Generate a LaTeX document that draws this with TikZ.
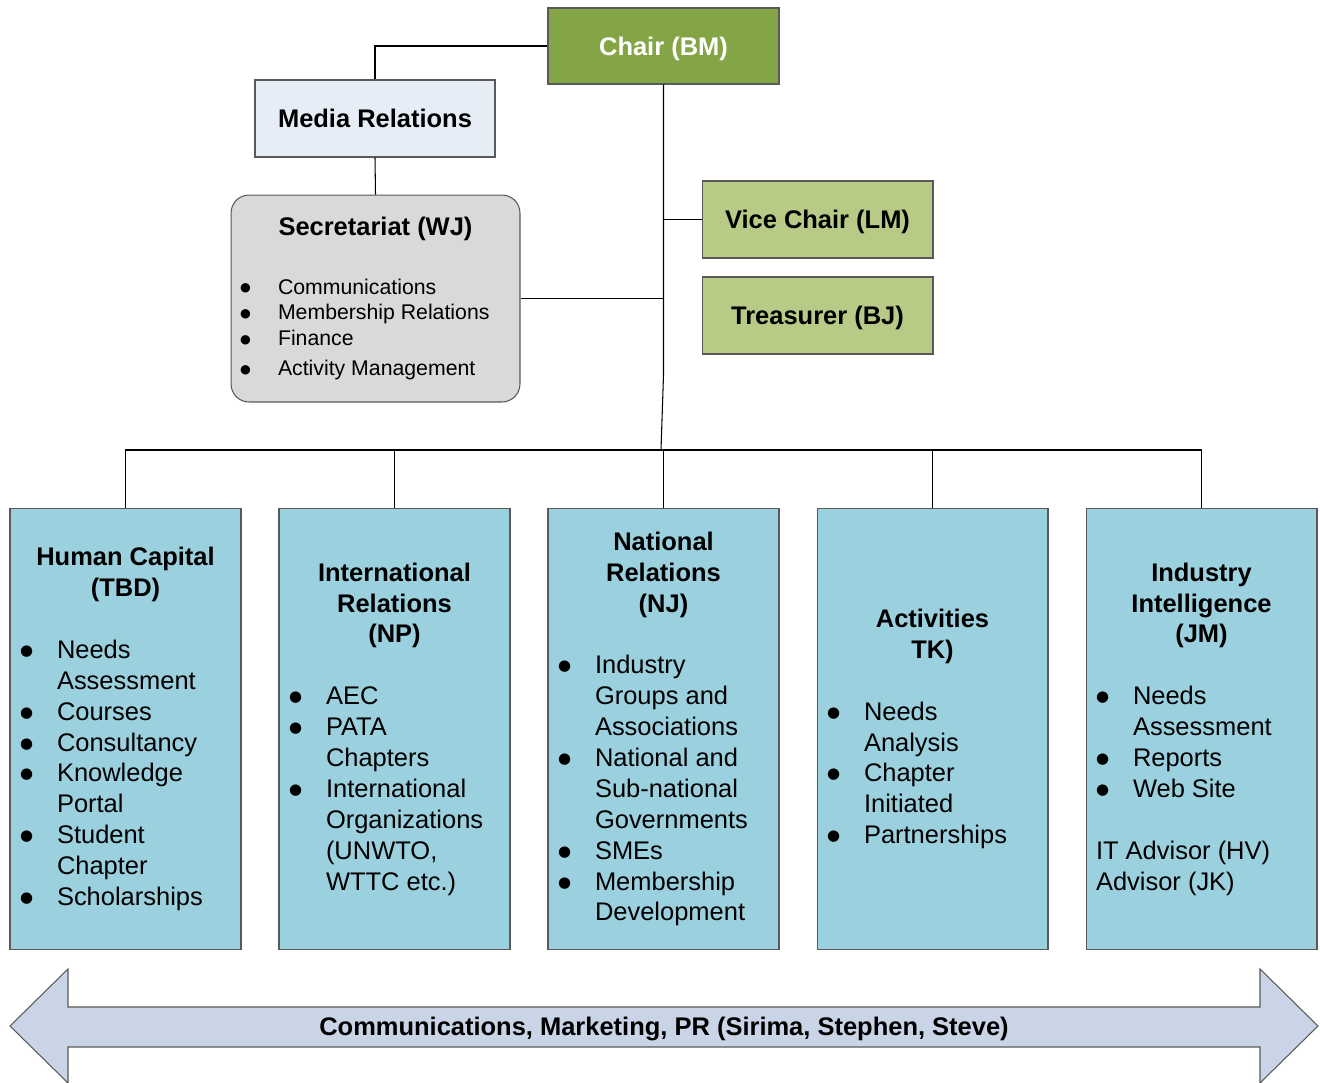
\documentclass[tikz,border=0pt]{standalone}
\usepackage{fontspec}
\setmainfont{Liberation Sans}
\newfontfamily\bulletfont{DejaVu Sans}
\newcommand\orgbullet[2]{\raisebox{#2}{\bulletfont\fontsize{#1}{#1}\selectfont ●}}
\newcommand\orgitem[1]{\par\noindent\hangindent=0.74cm\hangafter=1\makebox[0.74cm][l]{\orgbullet{8.5pt}{1.7pt}}#1}
\newcommand\secitem[1]{\par\noindent\makebox[0.76cm][l]{\orgbullet{7pt}{1.3pt}}#1}
\newcommand\orgunit[2]{\begin{minipage}{4.22cm}\centering #1\par\vspace{17.58pt}\raggedright\mdseries #2\end{minipage}}
\begin{document}
\begin{tikzpicture}[x=0.02cm,y=-0.02cm,
  orgbox/.style={draw=boxline,line width=0.6pt,inner sep=0pt,font=\bfseries\fontsize{14.5}{17.58}\selectfont,align=center},
  oneline/.style={text height=10.38pt,text depth=0pt},
  officer/.style={orgbox,oneline,fill=officerfill,minimum width=4.62cm,minimum height=1.54cm},
  unitbox/.style={orgbox,fill=unitfill,minimum width=4.62cm,minimum height=8.82cm},
  link/.style={line width=0.6pt}]
\definecolor{chairfill}{HTML}{84A546}
\definecolor{officerfill}{HTML}{B7CB86}
\definecolor{mediafill}{HTML}{E6EDF7}
\definecolor{secfill}{HTML}{D9D9D9}
\definecolor{unitfill}{HTML}{9BD0DE}
\definecolor{arrowfill}{HTML}{C9D5E6}
\definecolor{boxline}{HTML}{595959}
\useasboundingbox (0,0) rectangle (1320,1083);
\node[orgbox, oneline, fill=chairfill, text=white, minimum width=4.62cm, minimum height=1.52cm] (chair) at (663.5,46) {Chair (BM)};
\node[orgbox, oneline, fill=mediafill, minimum width=4.8cm, minimum height=1.54cm] (media) at (375,118.5) {Media Relations};
\node[orgbox, fill=secfill, rounded corners=0.36cm, minimum width=5.78cm, minimum height=4.14cm] (sec) at (375.5,298.5) {\begin{minipage}{5.42cm}\centering Secretariat (WJ)\par\fontsize{12.1}{14.7}\selectfont\mdseries\raggedright\vspace{18.6pt}%
\secitem{Communications}\secitem{Membership Relations}\secitem{Finance}\par\vspace{2.3pt}\secitem{Activity Management}\end{minipage}};
\node[officer] (vc) at (817.5,219.5) {Vice Chair (LM)};
\node[officer] (tr) at (817.5,315.5) {Treasurer (BJ)};
\node[unitbox] (hc) at (125.5,729) {\orgunit{Human Capital\\(TBD)}{\orgitem{Needs\newline Assessment}\orgitem{Courses}\orgitem{Consultancy}\orgitem{Knowledge\newline Portal}\orgitem{Student\newline Chapter}\orgitem{Scholarships}}};
\node[unitbox] (ir) at (394.5,729) {\orgunit{International\\Relations\\(NP)}{\orgitem{AEC}\orgitem{PATA\newline Chapters}\orgitem{International\newline Organizations\newline (UNWTO,\newline WTTC etc.)}}};
\node[unitbox] (nr) at (663.5,729) {\orgunit{National\\Relations\\(NJ)}{\orgitem{Industry\newline Groups and\newline Associations}\orgitem{National and\newline Sub-national\newline Governments}\orgitem{SMEs}\orgitem{Membership\newline Development}}};
\node[unitbox] (act) at (932.5,729) {\orgunit{Activities\\TK)}{\orgitem{Needs\newline Analysis}\orgitem{Chapter\newline Initiated}\orgitem{Partnerships}}};
\node[unitbox] (ii) at (1201.5,729) {\orgunit{Industry\\Intelligence\\(JM)}{\orgitem{Needs\newline Assessment}\orgitem{Reports}\orgitem{Web Site}\par\vspace{17.58pt}\noindent IT Advisor (HV)\newline Advisor (JK)}};
\coordinate (bend) at (663.5,375);
\coordinate (bus) at (661,450);
\draw[link] (chair.west) -| (media.north);
\draw[link] (media.south) -- (sec.north);
\draw[link] (chair.south) -- (bend) -- (bus);
\draw[link] (vc.west) -- (vc.west -| chair.south);
\draw[link] (sec.east) -- (sec.east -| chair.south);
\draw[link] (hc.north) |- (ii.north |- bus) -- (ii.north);
\foreach \u in {ir,nr,act} \draw[link] (\u.north) -- (\u.north |- bus);
\draw[fill=arrowfill, draw=boxline, line width=0.6pt] (10,1026) -- (68,969) -- (68,1007) -- (1260,1007) -- (1260,969) -- (1318,1026) -- (1260,1083) -- (1260,1047) -- (68,1047) -- (68,1083) -- cycle;
\node[oneline, inner sep=0pt, font=\bfseries\fontsize{14.5}{17.58}\selectfont] (comms) at (664,1026) {Communications, Marketing, PR (Sirima, Stephen, Steve)};
\end{tikzpicture}
\end{document}
